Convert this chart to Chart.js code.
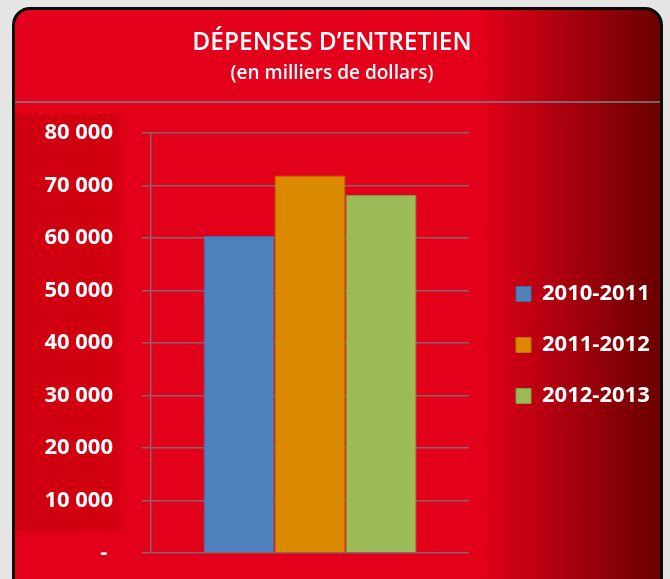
<!DOCTYPE html>
<html lang="fr">
<head>
<meta charset="utf-8">
<script src="https://cdn.jsdelivr.net/npm/chart.js@4.4.1/dist/chart.umd.min.js"></script>
<style>
  html, body { margin: 0; padding: 0; background: #e6e6e6; overflow: hidden; }
  body { width: 670px; height: 579px; position: relative; }
  #card {
    position: absolute; left: 12px; top: 7px; width: 651px; height: 620px;
    box-sizing: border-box; border: 3px solid #0a0a0a; border-radius: 18px;
    background: linear-gradient(to right, #e3001a 0%, #e3001a 72%, #6a0000 100%);
    overflow: hidden;
  }
  #rule { position: absolute; left: 0; top: 91px; width: 100%; height: 2px; background: rgba(125,125,125,0.8); }
  #axisPanel {
    position: absolute; left: 0; top: 104px; width: 114px; height: 417px;
    background: linear-gradient(to right, #cf0010 0%, #d2000f 85%, rgba(227,0,26,0) 100%);
  }
  canvas { position: absolute; left: 0; top: 0; }
</style>
</head>
<body>
<div id="card">
  <div id="axisPanel"></div>
  <div id="rule"></div>
  <canvas id="chart" width="645" height="600"></canvas>
</div>
<script>
  // valeurs (milliers de dollars)
  const categories = [""];
  const seriesNames = ["2010-2011", "2011-2012", "2012-2013"];
  const depenses20102011 = [60400];
  const depenses20112012 = [71900];
  const depenses20122013 = [68200];
  const yTicks = [0, 10000, 20000, 30000, 40000, 50000, 60000, 70000, 80000];

  const GRID = "rgba(118,118,118,0.85)";
  const FONT = "'Open Sans', 'Noto Sans', sans-serif";

  const fmt = v => v === 0 ? "- " : String(v).replace(/\B(?=(\d{3})+(?!\d))/g, " ");

  const barSet = (label, data, color, edge) => ({
    label, data,
    backgroundColor: color,
    borderColor: edge,
    borderWidth: 1,
    borderSkipped: "bottom"
  });

  new Chart(document.getElementById("chart"), {
    type: "bar",
    data: {
      labels: categories,
      datasets: [
        barSet(seriesNames[0], depenses20102011, "#4f81bd", "#3f6d9f"),
        barSet(seriesNames[1], depenses20112012, "#db8a00", "#b87400"),
        barSet(seriesNames[2], depenses20122013, "#9bbb59", "#7f9a46")
      ]
    },
    options: {
      responsive: false,
      animation: false,
      layout: { padding: { left: 0, right: 11, bottom: 57 } },
      datasets: { bar: { categoryPercentage: 0.67, barPercentage: 1 } },
      scales: {
        x: { display: false },
        y: {
          min: 0, max: yTicks[yTicks.length - 1],
          afterBuildTicks: s => { s.ticks = yTicks.map(v => ({ value: v })); },
          afterFit: s => { s.width = 136; },
          grid: { color: GRID, lineWidth: 1.5, tickLength: 9, tickColor: GRID },
          border: { color: GRID, width: 1.5 },
          ticks: {
            color: "#ffffff", padding: 29,
            font: { family: FONT, weight: "700", size: 22 },
            callback: v => fmt(v)
          }
        },
        // espace vide entre le graphique et la légende
        gap: {
          position: "right", display: true,
          afterFit: s => { s.width = 18; },
          grid: { display: false }, border: { display: false },
          ticks: { display: false }
        }
      },
      plugins: {
        title: {
          display: true, text: "DÉPENSES D’ENTRETIEN", color: "#ffffff",
          font: { family: FONT, weight: "600", size: 24.5, lineHeight: 1.2 },
          padding: { top: 18, bottom: 3 }
        },
        subtitle: {
          display: true, text: "(en milliers de dollars)", color: "#ffffff",
          font: { family: FONT, weight: "600", size: 19, lineHeight: 1.2 },
          padding: { top: 2.2, bottom: 47.6 }
        },
        legend: {
          position: "right", align: "center", fullSize: false, maxWidth: 162,
          title: { display: true, text: "", font: { size: 1, lineHeight: 1 }, padding: { top: 2, bottom: 1 } },
          labels: {
            color: "#ffffff", boxWidth: 15, boxHeight: 15, padding: 29,
            font: { family: FONT, weight: "700", size: 22 }
          }
        },
        tooltip: { enabled: false }
      }
    }
  });
</script>
</body>
</html>
